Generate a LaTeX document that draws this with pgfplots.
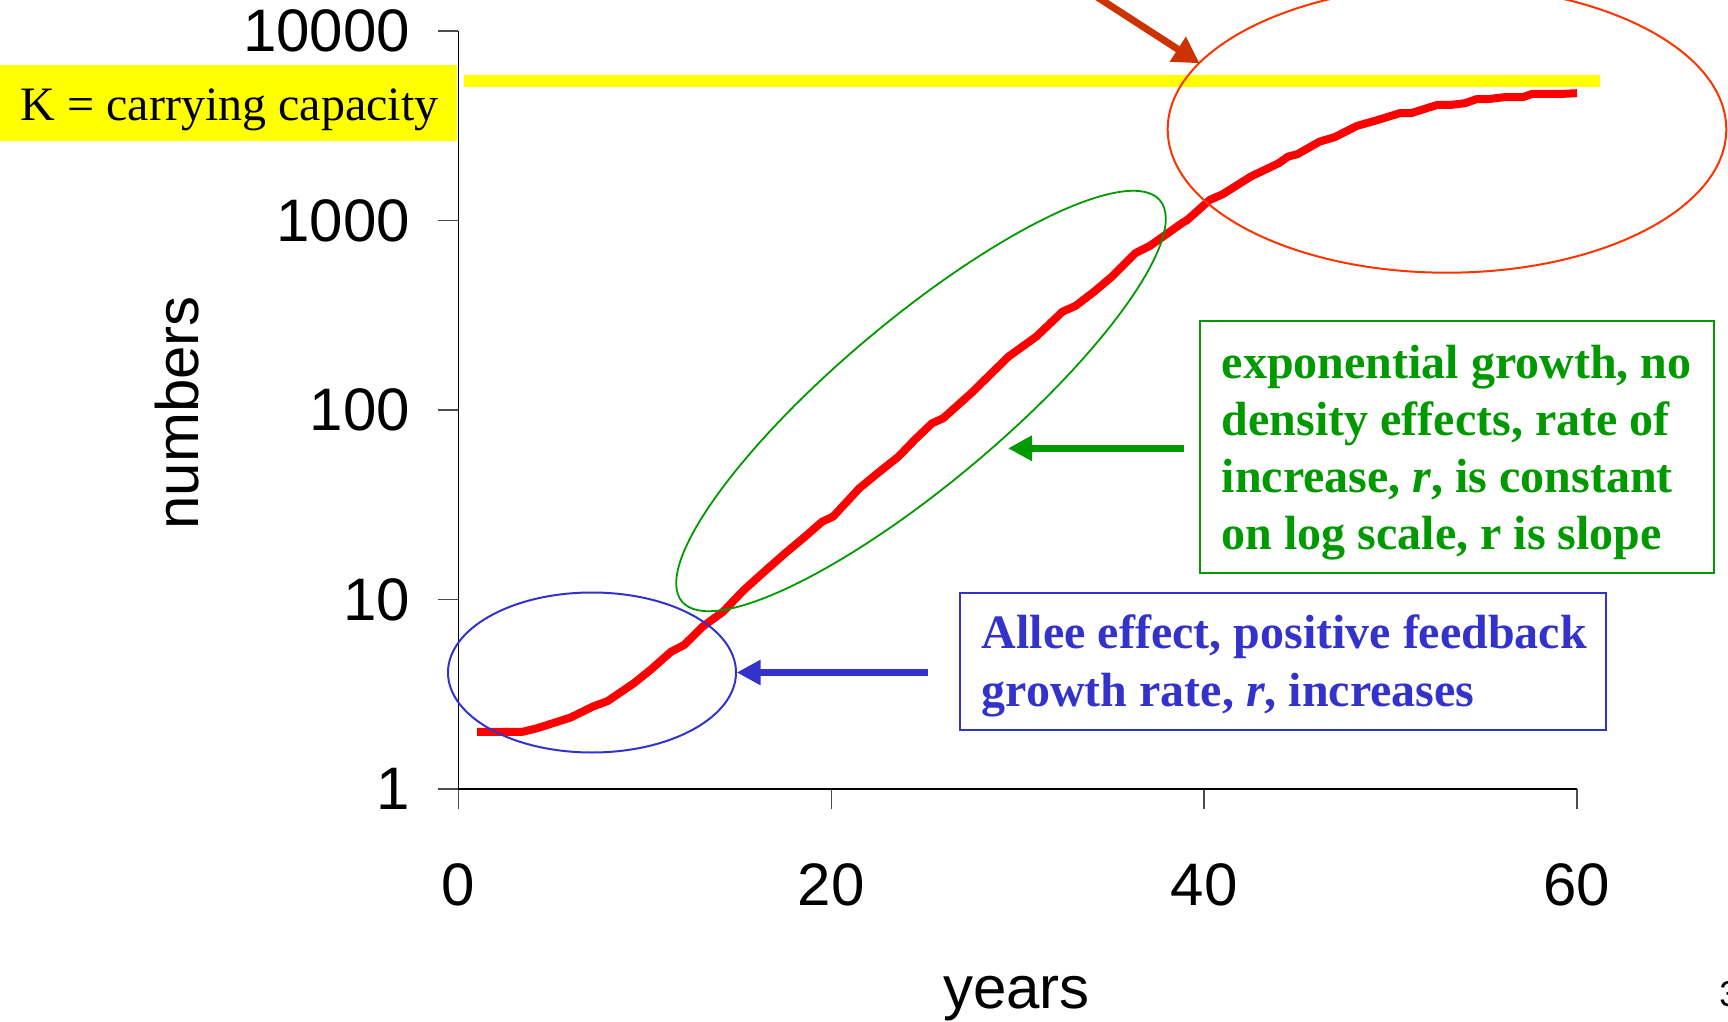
\documentclass[border=0pt]{standalone}
\usepackage{pgfplots}
\pgfplotsset{compat=1.18}
\usepackage{fontspec}
\setmainfont{Liberation Sans}
\newfontfamily\timesf{Liberation Serif}
\usetikzlibrary{arrows.meta}
\definecolor{kyellow}{RGB}{255,255,0}
\definecolor{cred}{RGB}{255,0,0}
\definecolor{ered}{RGB}{255,51,0}
\definecolor{abrown}{RGB}{204,51,0}
\definecolor{cgreen}{RGB}{0,153,0}
\definecolor{cblue}{RGB}{51,51,204}
\begin{document}
\begin{tikzpicture}
\useasboundingbox (0,0) rectangle (432pt,255.25pt);
\begin{axis}[
  at={(114.625pt,58pt)}, anchor=south west,
  scale only axis, width=279.625pt, height=189.525pt,
  xmin=0, xmax=60, ymin=1, ymax=10000, ymode=log,
  axis x line=bottom, axis y line=left,
  axis line style={-, black, line width=0.4pt},
  xtick={0,20,40,60}, xticklabels={0,20,40,60},
  ytick={1,10,100,1000,10000}, yticklabels={1,10,100,1000,10000},
  yminorticks=false, xminorticks=false,
  tick align=outside, major tick length=5pt,
  tick style={black!70, line width=0.4pt},
  ticklabel style={font=\fontsize{15}{18}\selectfont},
  yticklabel style={anchor=east, inner sep=0pt, xshift=-6.9pt},
  xticklabel style={anchor=north, inner sep=0pt, yshift=-13.5pt},
  xlabel={years}, ylabel={numbers},
  label style={font=\fontsize{15}{18}\selectfont},
  xlabel style={at={(axis description cs:0.499,-0.2889)}, anchor=base},
  ylabel style={at={(axis description cs:-0.2326,0.496)}, anchor=base},
  clip=false,
]
\addplot[kyellow, line width=3pt] coordinates {(0.3,5430) (61.22,5430)};
\addplot[cred, line width=2pt, line join=round, line cap=butt] coordinates {
(1,2)(3.4,2)(4.2,2.09)(6,2.38)(7.2,2.72)(8,2.91)(9.4,3.61)(10.3,4.25)(11.4,5.3)(12.1,5.75)
(13.1,7.19)(14.2,8.63)(15.3,11.2)(16.5,14.3)(17.6,17.8)(18.6,21.5)(19.5,25.7)(20.1,27.4)
(21.5,38.6)(22.5,46.5)(23.6,56.7)(24.5,70)(25.4,85)(26,90.4)(27.5,122.5)(28.5,153)(29.5,191)
(31,244)(32.4,330)(33.1,354)(34.1,421)(35,500)(36.3,671)(37.1,735)(38.8,966)(39.1,1006)
(40.3,1283)(41,1375)(42.5,1703)(44,2004)(44.5,2171)(45,2235)(46.2,2606)(47,2749)(48.2,3154)
(49.2,3363)(50.5,3680)(51.1,3680)(52.5,4067)(53.2,4067)(54,4154)(54.6,4360)(55.2,4360)
(56.1,4469)(57.1,4469)(57.6,4653)(59.2,4653)(60,4690)};
\end{axis}
\begin{scope}[x=0.25pt,y=-0.25pt,shift={(0pt,255.25pt)}]
\fill[kyellow] (0,65) rectangle (457,141);
\node[anchor=base west, inner sep=0pt, font=\timesf\fontsize{12}{14}\selectfont] at (20,120.7) {K = carrying capacity};
\draw[ered, line width=0.5pt] (1447,129.3) ellipse [x radius=279.3, y radius=143.4];
\draw[abrown, line width=1.75pt, -{Triangle[length=6.5pt,width=7pt]}] (1060,-27) -- (1199.6,63.3);
\draw[cblue, line width=0.5pt] (592,672.5) ellipse [x radius=144, y radius=80];
\draw[cblue, line width=1.9pt, -{Triangle[length=6pt,width=6pt]}] (928,672.5) -- (736.7,672.5);
\draw[cgreen, line width=0.45pt, rotate around={40:(921,401)}] (921,401) ellipse [x radius=312, y radius=82];
\draw[cgreen, line width=1.9pt, -{Triangle[length=6pt,width=6pt]}] (1183.7,448.3) -- (1008,448.3);
\draw[cgreen, line width=0.5pt] (1200,320.7) rectangle (1714,572.7);
\begin{scope}[every node/.style={anchor=base west, inner sep=0pt, font=\timesf\bfseries\fontsize{12}{14}\selectfont}]
\node[cgreen] at (1221,378.3) {exponential growth, no};
\node[cgreen] at (1221,435) {density effects, rate of};
\node[cgreen] at (1221,492.7) {increase, \textit{r}, is constant};
\node[cgreen] at (1221,549.3) {on log scale, r is slope};
\node[cblue] at (981,648.3) {Allee effect, positive feedback};
\node[cblue] at (981,706) {growth rate, \textit{r}, increases};
\end{scope}
\draw[cblue, line width=0.5pt] (960,593.3) rectangle (1606,730);
\node[anchor=base west, inner sep=0pt, font=\fontsize{9}{10}\selectfont] at (1718.5,1006.5) {3};
\end{scope}
\end{tikzpicture}
\end{document}
